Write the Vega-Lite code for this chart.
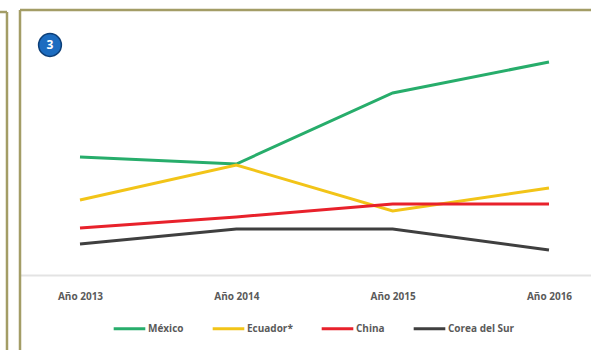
{
  "$schema": "https://vega.github.io/schema/vega-lite/v6.json",
  "autosize": {"type": "none"},
  "padding": {"left": 20, "top": 10, "right": 0, "bottom": 75},
  "width": 571,
  "height": 265,
  "background": "white",
  "config": {
    "view": {"stroke": null},
    "font": "Open Sans"
  },
  "encoding": {
    "x": {
      "field": "year", "type": "quantitative",
      "scale": {"domain": [2012.6162, 2016.2687], "nice": false, "zero": false},
      "axis": {
        "title": null,
        "values": [2013, 2014, 2015, 2016],
        "labelExpr": "'Año ' + datum.value",
        "ticks": false,
        "grid": false,
        "domainColor": "#e3e3e3",
        "domainWidth": 2,
        "labelFontSize": 10,
        "labelFontWeight": "bold",
        "labelColor": "#5a5a5a",
        "labelPadding": 16,
        "labelFlush": false
      }
    },
    "y": {
      "field": "value", "type": "quantitative",
      "scale": {"domain": [0, 265], "nice": false},
      "axis": null
    }
  },
  "layer": [
    {
      "data": {"values": [
        {"year": 2012.6162, "value": 265, "value2": -90},
        {"year": 2012.533, "value": 263, "value2": -90}
      ]},
      "mark": {"type": "rule", "color": "#a39d66", "strokeWidth": 2.5},
      "encoding": {
        "y2": {"field": "value2"}
      }
    },
    {
      "data": {"values": [
        {"year": 2012.6162, "year2": 2016.4, "value": 265},
        {"year": 2012.4, "year2": 2012.533, "value": 263}
      ]},
      "mark": {"type": "rule", "color": "#a39d66", "strokeWidth": 2.5},
      "encoding": {
        "x2": {"field": "year2"}
      }
    },
    {
      "data": {"values": [
        {"year": 2013, "country": "México", "value": 118},
        {"year": 2014, "country": "México", "value": 111},
        {"year": 2015, "country": "México", "value": 182},
        {"year": 2016, "country": "México", "value": 213},
        {"year": 2013, "country": "Ecuador*", "value": 75},
        {"year": 2014, "country": "Ecuador*", "value": 110},
        {"year": 2015, "country": "Ecuador*", "value": 64},
        {"year": 2016, "country": "Ecuador*", "value": 87},
        {"year": 2013, "country": "China", "value": 47},
        {"year": 2014, "country": "China", "value": 58},
        {"year": 2015, "country": "China", "value": 71},
        {"year": 2016, "country": "China", "value": 71},
        {"year": 2013, "country": "Corea del Sur", "value": 31},
        {"year": 2014, "country": "Corea del Sur", "value": 46},
        {"year": 2015, "country": "Corea del Sur", "value": 46},
        {"year": 2016, "country": "Corea del Sur", "value": 25}
      ]},
      "mark": {"type": "line", "strokeWidth": 3},
      "encoding": {
        "color": {
          "field": "country", "type": "nominal",
          "scale": {
            "domain": ["México", "Ecuador*", "China", "Corea del Sur"],
            "range": ["#27ad6b", "#f2c418", "#e8212b", "#3f3f3f"]
          },
          "legend": {
            "title": null,
            "orient": "none",
            "direction": "horizontal",
            "legendX": 92,
            "legendY": 301,
            "symbolType": "stroke",
            "symbolSize": 1000,
            "symbolStrokeWidth": 3,
            "labelFontSize": 10,
            "labelFontWeight": "bold",
            "labelColor": "#5a5a5a",
            "labelOffset": 1,
            "columnPadding": 22
          }
        }
      }
    },
    {
      "data": {"values": [{"year": 2012.808, "value": 230, "label": "3"}]},
      "mark": {"type": "circle", "size": 520, "color": "#1c6cc0", "stroke": "#0d3f78", "strokeWidth": 1.5, "opacity": 1}
    },
    {
      "data": {"values": [{"year": 2012.808, "value": 230, "label": "3"}]},
      "mark": {"type": "text", "color": "white", "fontSize": 12, "fontWeight": "bold", "baseline": "middle", "align": "center"},
      "encoding": {
        "text": {"field": "label", "type": "nominal"}
      }
    }
  ]
}
